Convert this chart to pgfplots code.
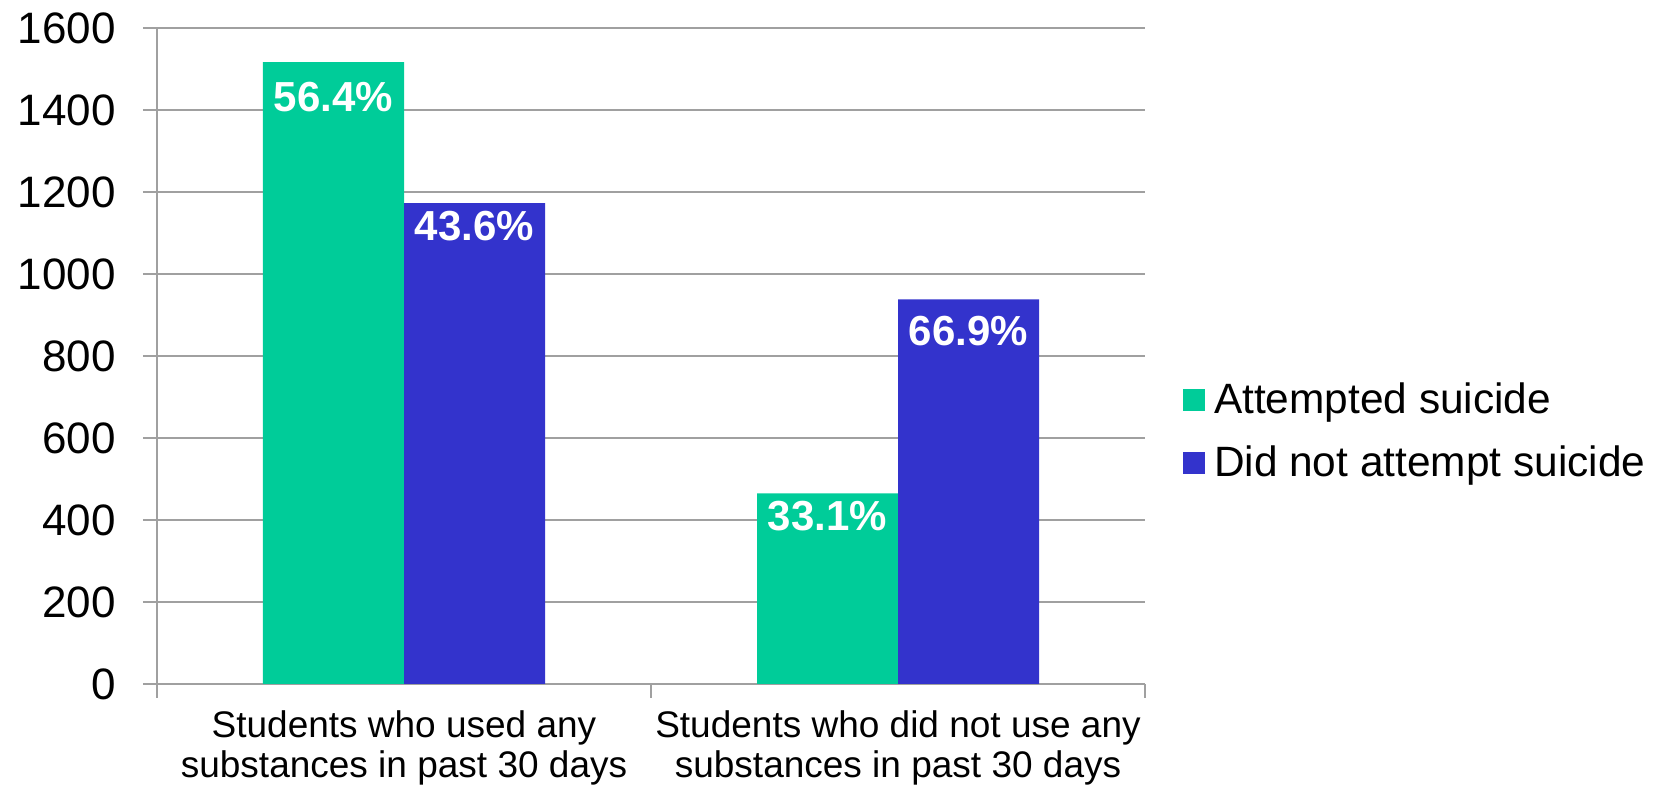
\documentclass[border=0pt]{standalone}
\usepackage{fontspec}
\setmainfont{Liberation Sans}
\usepackage{pgfplots}
\pgfplotsset{compat=1.18}
\usepackage{pgfplotstable}
\definecolor{cgreen}{HTML}{00CC99}
\definecolor{cblue}{HTML}{3333CC}
\definecolor{cgrid}{HTML}{A0A0A0}

\pgfplotstableread{
x y lbl off
0 1517 56.4 17.5
1 465 33.1 11.5
}\attempted
\pgfplotstableread{
x y lbl off
0 1173 43.6 11.3
1 938 66.9 16
}\notattempted

\begin{document}
\begin{tikzpicture}
\path[use as bounding box] (0,0) rectangle (830.5pt,395pt);
\begin{axis}[
  at={(78.5pt,53pt)}, anchor=south west,
  scale only axis, width=494pt, height=328pt,
  ybar=0pt, bar width=70.5pt,
  xmin=-0.5, xmax=1.5, ymin=0, ymax=1600,
  ytick={0,200,...,1600},
  xtick={-0.5,0.5,1.5}, xticklabels={},
  extra x ticks={0,1},
  extra x tick labels={Students who used any\\substances in past 30 days, Students who did not use any\\substances in past 30 days},
  extra x tick style={major tick length=0pt, grid=none},
  xticklabel style={font=\fontsize{18.5}{20}\selectfont, align=center, anchor=north, inner sep=0pt, yshift=-13pt},
  yticklabel style={font=\fontsize{22}{24}\selectfont, anchor=east, inner sep=0pt, xshift=-13.5pt},
  /pgf/number format/assume math mode=true,
  /pgf/number format/1000 sep={},
  ymajorgrids, grid style={cgrid, line width=1.2pt},
  axis x line*=bottom, axis y line*=left,
  axis line style={cgrid, line width=1.2pt},
  tick style={cgrid, line width=1.2pt},
  tick align=outside, major tick length=7pt,
  point meta=explicit symbolic,
  visualization depends on={\thisrow{off}\as\myoff},
  nodes near coords={\pgfplotspointmeta\%},
  every node near coord/.append style={font=\fontsize{21}{24}\selectfont\bfseries, text=white, anchor=center, yshift=-\myoff pt, inner sep=0pt},
  legend style={draw=none, fill=none, at={(1.0385,0.385)}, anchor=west, inner sep=0pt, row sep=14.7pt, column sep=4.5pt, font=\fontsize{21.2}{24}\selectfont, nodes={inner sep=0pt}},
  legend cell align=left,
  legend image code/.code={\fill[#1] (0pt,-5.4pt) rectangle (10.8pt,5.4pt);},
]
\addplot[fill=cgreen, draw=none] table[x=x, y=y, meta=lbl] {\attempted};
\addplot[fill=cblue, draw=none] table[x=x, y=y, meta=lbl] {\notattempted};
\legend{Attempted suicide, Did not attempt suicide}
\end{axis}
\end{tikzpicture}
\end{document}
